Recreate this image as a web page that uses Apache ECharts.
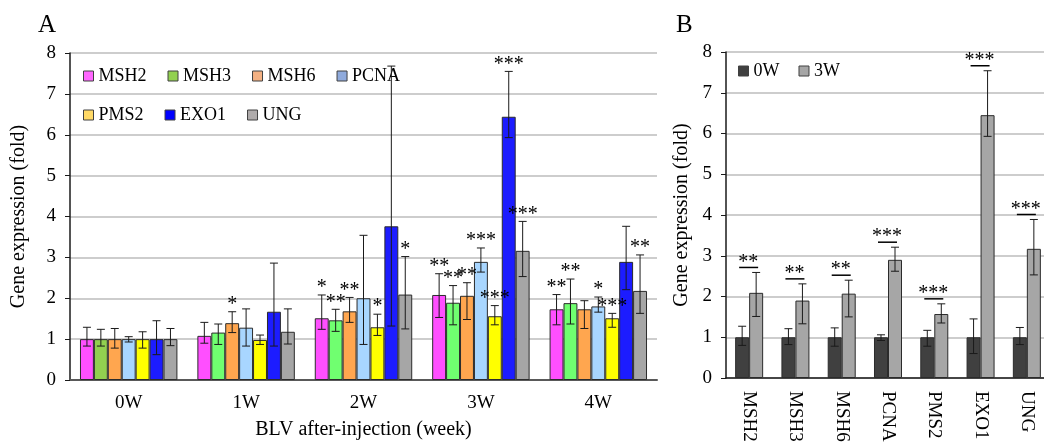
<!DOCTYPE html>
<html>
<head>
<meta charset="utf-8">
<script src="https://cdn.jsdelivr.net/npm/echarts@6/dist/echarts.min.js"></script>
<style>
html,body{margin:0;padding:0;background:#fff;}
#chart{width:1044px;height:443px;}
</style>
</head>
<body>
<div id="chart"></div>
<script>
// ---------- Panel A data ----------
const catsA = ['0W', '1W', '2W', '3W', '4W'];
const genes = ['MSH2', 'MSH3', 'MSH6', 'PCNA', 'PMS2', 'EXO1', 'UNG'];

const MSH2     = [1, 1.08, 1.51, 2.08, 1.73];
const MSH2_HI  = [1.29, 1.41, 2.08, 2.60, 2.09];
const MSH2_LO  = [0.83, 0.90, 1.24, 1.53, 1.35];
const MSH2_SIG = ['', '', '*', '**', '**'];

const MSH3     = [1, 1.16, 1.46, 1.89, 1.88];
const MSH3_HI  = [1.24, 1.37, 1.73, 2.31, 2.47];
const MSH3_LO  = [0.83, 0.87, 1.19, 1.35, 1.37];
const MSH3_SIG = ['', '', '**', '**', '**'];

const MSH6     = [1, 1.39, 1.68, 2.06, 1.73];
const MSH6_HI  = [1.26, 1.67, 2.02, 2.38, 1.94];
const MSH6_LO  = [0.78, 1.16, 1.41, 1.48, 1.26];
const MSH6_SIG = ['', '*', '**', '**', ''];

const PCNA     = [1, 1.28, 2.00, 2.89, 1.80];
const PCNA_HI  = [1.06, 1.74, 3.54, 3.23, 2.03];
const PCNA_LO  = [0.93, 0.83, 0.87, 2.64, 1.66];
const PCNA_SIG = ['', '', '', '***', '*'];

const PMS2     = [1, 0.98, 1.29, 1.56, 1.51];
const PMS2_HI  = [1.18, 1.10, 1.61, 1.82, 1.63];
const PMS2_LO  = [0.78, 0.87, 1.09, 1.35, 1.29];
const PMS2_SIG = ['', '', '*', '***', '***'];

const EXO1     = [1, 1.67, 3.76, 6.44, 2.89];
const EXO1_HI  = [1.45, 2.86, 7.68, 7.55, 3.76];
const EXO1_LO  = [0.62, 0.83, 1.32, 5.93, 2.21];
const EXO1_SIG = ['', '', '', '***', ''];

const UNG      = [1, 1.18, 2.09, 3.16, 2.18];
const UNG_HI   = [1.26, 1.74, 3.02, 3.88, 3.06];
const UNG_LO   = [0.84, 0.88, 1.25, 2.53, 1.63];
const UNG_SIG  = ['', '', '*', '***', '**'];

const yTicks = [0, 1, 2, 3, 4, 5, 6, 7, 8];

// ---------- Panel B data ----------
const catsB   = ['MSH2', 'MSH3', 'MSH6', 'PCNA', 'PMS2', 'EXO1', 'UNG'];
const B_0W    = [1, 1, 1, 1, 1, 1, 1];
const B_0W_HI = [1.27, 1.21, 1.23, 1.06, 1.17, 1.45, 1.24];
const B_0W_LO = [0.80, 0.82, 0.78, 0.92, 0.78, 0.60, 0.82];
const B_3W    = [2.09, 1.90, 2.07, 2.90, 1.57, 6.45, 3.17];
const B_3W_HI = [2.59, 2.31, 2.40, 3.21, 1.82, 7.54, 3.89];
const B_3W_LO = [1.51, 1.33, 1.50, 2.62, 1.35, 5.93, 2.53];
const B_SIG   = ['**', '**', '**', '***', '***', '***', '***'];

// ---------- styling ----------
const FONT = "'Liberation Serif', 'Times New Roman', serif";
const barColors = ['#FF4FFF', '#70FF70', '#FFA64F', '#A8D6FF', '#FFFF00', '#1C1CFF', '#A6A6A6'];
const legendColors = ['#FF66FF', '#92D050', '#F4B183', '#8FAADC', '#FFD966', '#0000FF', '#AFABAB'];
const GAP_A = 0.17, GAP_B = 0.395;

const valsA = [MSH2, MSH3, MSH6, PCNA, PMS2, EXO1, UNG];
const hiA = [MSH2_HI, MSH3_HI, MSH6_HI, PCNA_HI, PMS2_HI, EXO1_HI, UNG_HI];
const loA = [MSH2_LO, MSH3_LO, MSH6_LO, PCNA_LO, PMS2_LO, EXO1_LO, UNG_LO];
const sigA = [MSH2_SIG, MSH3_SIG, MSH6_SIG, PCNA_SIG, PMS2_SIG, EXO1_SIG, UNG_SIG];

function errRenderer(gi, n, gap, sigArr, bracket) {
  return function (params, api) {
    const idx = api.value(0);
    const hi = api.value(1), lo = api.value(2);
    const band = api.size([1, 0])[0];
    const group = band * (1 - gap);
    const bw = group / n;
    const cx = api.coord([idx, 0])[0];
    const x = cx - group / 2 + (gi + 0.5) * bw;
    const yHi = api.coord([idx, hi])[1];
    const yLo = api.coord([idx, lo])[1];
    const cap = 4;
    const ls = { stroke: '#1a1a1a', lineWidth: 1 };
    const children = [
      { type: 'line', shape: { x1: x, y1: yHi, x2: x, y2: yLo }, style: ls },
      { type: 'line', shape: { x1: x - cap, y1: yHi, x2: x + cap, y2: yHi }, style: ls },
      { type: 'line', shape: { x1: x - cap, y1: yLo, x2: x + cap, y2: yLo }, style: ls }
    ];
    const s = sigArr ? sigArr[params.dataIndex] : '';
    if (s) {
      if (bracket) {
        const ly = yHi - 5;
        children.push({ type: 'line', shape: { x1: cx - 10, y1: ly, x2: cx + 9, y2: ly }, style: { stroke: '#000', lineWidth: 1.5 } });
        children.push({ type: 'text', style: { text: s, x: cx - 1, y: ly - 5, textAlign: 'center', textVerticalAlign: 'middle', font: '20px ' + FONT, fill: '#000' } });
      } else {
        children.push({ type: 'text', style: { text: s, x: x, y: yHi - 7, textAlign: 'center', textVerticalAlign: 'middle', font: '20px ' + FONT, fill: '#000' } });
      }
    }
    return { type: 'group', children: children };
  };
}

const series = [];
genes.forEach(function (g, gi) {
  series.push({
    name: g, type: 'bar', xAxisIndex: 0, yAxisIndex: 0,
    barGap: '0%', barCategoryGap: (GAP_A * 100) + '%',
    itemStyle: { color: barColors[gi], borderColor: '#2b2b2b', borderWidth: 1 },
    data: valsA[gi].map(function (v, i) {
      return (gi === 1 && i === 0) ? { value: v, itemStyle: { color: '#92D050' } } : v;
    }),
    z: 2
  });
});
genes.forEach(function (g, gi) {
  series.push({
    name: g + ' err', type: 'custom', xAxisIndex: 0, yAxisIndex: 0,
    renderItem: errRenderer(gi, 7, GAP_A, sigA[gi], false),
    encode: { x: 0, y: [1, 2] },
    data: catsA.map(function (c, i) { return [i, hiA[gi][i], loA[gi][i]]; }),
    z: 5
  });
});
// Panel B
series.push({
  name: '0W', type: 'bar', xAxisIndex: 1, yAxisIndex: 1,
  barGap: '0%', barCategoryGap: (GAP_B * 100) + '%',
  itemStyle: { color: '#404040', borderColor: '#2b2b2b', borderWidth: 1 },
  data: B_0W, z: 2
});
series.push({
  name: '3W', type: 'bar', xAxisIndex: 1, yAxisIndex: 1,
  itemStyle: { color: '#A6A6A6', borderColor: '#2b2b2b', borderWidth: 1 },
  data: B_3W, z: 2
});
series.push({
  name: '0W err', type: 'custom', xAxisIndex: 1, yAxisIndex: 1,
  renderItem: errRenderer(0, 2, GAP_B, null, false),
  encode: { x: 0, y: [1, 2] },
  data: catsB.map(function (c, i) { return [i, B_0W_HI[i], B_0W_LO[i]]; }),
  z: 5
});
series.push({
  name: '3W err', type: 'custom', xAxisIndex: 1, yAxisIndex: 1,
  renderItem: errRenderer(1, 2, GAP_B, B_SIG, true),
  encode: { x: 0, y: [1, 2] },
  data: catsB.map(function (c, i) { return [i, B_3W_HI[i], B_3W_LO[i]]; }),
  z: 5
});

const labelText = { color: '#000', fontFamily: FONT, fontSize: 19 };
const legendText = { color: '#000', fontFamily: FONT, fontSize: 18 };
const nameText = { color: '#000', fontFamily: FONT, fontSize: 20 };

function yAxisCfg(gridIndex, nameGap) {
  return {
    type: 'value', gridIndex: gridIndex, min: yTicks[0], max: yTicks[yTicks.length - 1], interval: 1,
    axisLine: { show: true, lineStyle: { color: '#1a1a1a', width: 1.5 } },
    axisTick: { show: true, length: 5, lineStyle: { color: '#1a1a1a' } },
    splitLine: { lineStyle: { color: '#bdbdbd', width: 1.5 } },
    axisLabel: Object.assign({ margin: 14 }, labelText),
    name: 'Gene expression (fold)', nameLocation: 'middle', nameGap: nameGap, nameRotate: 90,
    nameTextStyle: nameText
  };
}

const option = {
  animation: false,
  backgroundColor: '#fff',
  textStyle: { fontFamily: FONT },
  grid: [
    { left: 70, top: 53, width: 587, height: 327, containLabel: false, outerBoundsMode: 'none' },
    { left: 726, top: 52, width: 324, height: 326, containLabel: false, outerBoundsMode: 'none' }
  ],
  legend: [
    {
      left: 78, top: 62, width: 330, itemWidth: 10, itemHeight: 10, itemGap: 21,
      textStyle: legendText, icon: 'rect',
      itemStyle: { borderColor: '#404040', borderWidth: 1 },
      data: genes.map(function (g, gi) { return { name: g, itemStyle: { color: legendColors[gi] } }; })
    },
    {
      left: 733, top: 57, itemWidth: 10, itemHeight: 10, itemGap: 19,
      textStyle: legendText, icon: 'rect',
      itemStyle: { borderColor: '#404040', borderWidth: 1 },
      data: ['0W', '3W']
    }
  ],
  xAxis: [
    {
      type: 'category', gridIndex: 0, data: catsA,
      axisLine: { lineStyle: { color: '#595959', width: 2 } },
      axisTick: { show: false },
      axisLabel: Object.assign({ margin: 14 }, labelText),
      name: 'BLV after-injection (week)', nameLocation: 'middle', nameGap: 40,
      nameTextStyle: nameText
    },
    {
      type: 'category', gridIndex: 1, data: catsB,
      axisLine: { lineStyle: { color: '#1a1a1a', width: 1.5 } },
      axisTick: { show: false },
      axisLabel: Object.assign({ margin: 13, rotate: -90 }, labelText)
    }
  ],
  yAxis: [yAxisCfg(0, 41), yAxisCfg(1, 34)],
  graphic: [
    { type: 'text', left: 38, top: 13, style: { text: 'A', font: '25px ' + FONT, fill: '#000' } },
    { type: 'text', left: 676, top: 13, style: { text: 'B', font: '25px ' + FONT, fill: '#000' } }
  ],
  series: series
};

const chart = echarts.init(document.getElementById('chart'), null, { renderer: 'canvas' });
chart.setOption(option);
</script>
</body>
</html>
